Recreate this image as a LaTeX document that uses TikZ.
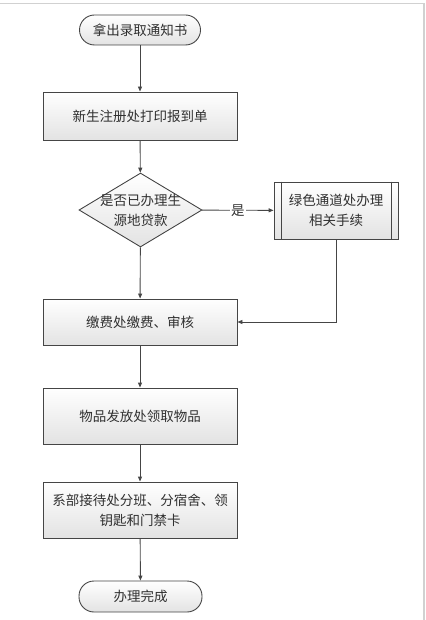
\documentclass[tikz,border=0pt]{standalone}
\usepackage{fontspec}
\newfontfamily\cjk{Noto Sans CJK SC}
\usetikzlibrary{shapes.geometric,arrows.meta}
\definecolor{linec}{HTML}{454545}
\definecolor{txtc}{HTML}{303030}
\tikzset{
  base/.style={draw=linec, line width=0.9pt, top color=white, bottom color=black!11,
    text=txtc, font=\cjk\fontsize{13.5}{20}\selectfont, align=center, inner sep=0pt},
  term/.style={base, rounded corners=15pt, minimum width=121pt, minimum height=30pt},
  proc/.style={base, minimum width=194pt},
  dec/.style={base, diamond, minimum width=123pt, minimum height=74pt},
  lbl/.style={text=txtc, font=\cjk\fontsize{13.5}{20}\selectfont, align=center, inner sep=0pt},
  conn/.style={draw=linec, line width=0.9pt, -{Triangle[length=5pt,width=4pt]}},
}
\begin{document}
\begin{tikzpicture}[x=1pt,y=-1pt]
\useasboundingbox (0,0) rectangle (425,620);
\draw[black!18, line width=1.5pt] (0,3.5) -- (424,3.5) -- (424,620);

\node[term] (start) at (140,30) {拿出录取通知书};
\node[proc, minimum height=48pt] (reg) at (140,116) {新生注册处打印报到单};
\node[dec] (loan) at (140.5,210) {};
\node[lbl] (loantxt) at (140.5,210) {是否已办理生\\源地贷款};
\node[base, minimum width=124pt, minimum height=57pt] (green) at (336,210.5) {绿色通道处办理\\相关手续};
\draw[draw=linec, line width=0.9pt] ([xshift=8pt]green.north west) -- ([xshift=8pt]green.south west);
\draw[draw=linec, line width=0.9pt] ([xshift=-7pt]green.north east) -- ([xshift=-7pt]green.south east);
\node[proc, minimum height=46pt] (fee) at (140,322) {缴费处缴费、审核};
\node[proc, minimum height=56pt] (goods) at (140,416) {物品发放处领取物品};
\node[proc, minimum height=56pt] (dept) at (140,510) {系部接待处分班、分宿舍、领\\钥匙和门禁卡};
\node[term, minimum width=123pt, minimum height=31pt] (done) at (140.5,596.5) {办理完成};

\draw[conn] (start) -- (reg);
\draw[conn] (reg) -- (loan);
\draw[conn] (loan) -- node[lbl, fill=white, inner sep=1pt] (yes) {是} (green);
\draw[conn] (loan) -- (fee);
\draw[conn] (green.south) |- (fee.east);
\draw[conn] (fee) -- (goods);
\draw[conn] (goods) -- (dept);
\draw[conn] (dept) -- (done);
\end{tikzpicture}
\end{document}
